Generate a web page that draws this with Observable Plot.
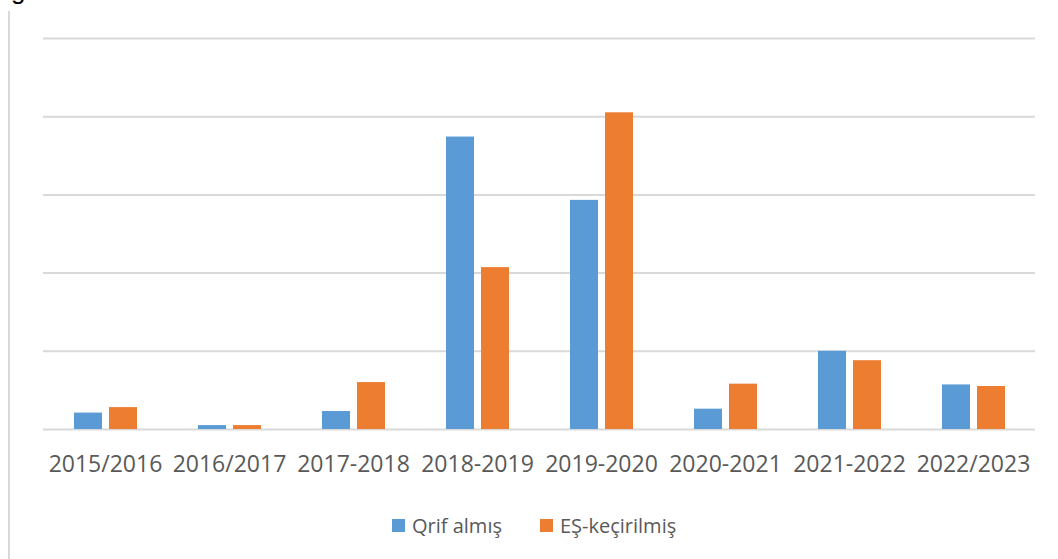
<!DOCTYPE html>
<html>
<head>
<meta charset="utf-8">
<script src="https://cdn.jsdelivr.net/npm/d3@7"></script>
<script src="https://cdn.jsdelivr.net/npm/@observablehq/plot@0.6"></script>
<style>
  html, body { margin: 0; padding: 0; background: #fff; }
  body { width: 1058px; height: 559px; position: relative; overflow: hidden; font-family: "Open Sans", sans-serif; }
  #frag { position: absolute; left: 11px; top: -23px; font: 26px/26px "Liberation Sans", sans-serif; color: #000; }
  #vline { position: absolute; left: 8px; top: 11px; width: 2px; height: 560px; background: #d9d9d9; }
  #chart { position: absolute; left: 0; top: 0; }
  #legend { position: absolute; top: 512px; left: 392px; display: flex; align-items: center; font-size: 20px; color: #595959; white-space: nowrap; }
  #legend .sw { display: inline-block; width: 13px; height: 13px; margin-right: 7px; }
  #legend .item { display: flex; align-items: center; }
</style>
</head>
<body>
<div id="frag">g</div>
<div id="vline"></div>
<div id="chart"></div>
<div id="legend"></div>
<script>
const years = ["2015/2016", "2016/2017", "2017-2018", "2018-2019", "2019-2020", "2020-2021", "2021-2022", "2022/2023"];
const series = ["Qrif almış", "EŞ-keçirilmiş"];
const colors = ["#5B9BD5", "#ED7D31"];
const qrifAlmis = [21, 5, 23, 374, 293, 26, 100, 57];
const esKecirilmis = [28, 5, 60, 207, 405, 58, 88, 55];
const gridValues = [0, 100, 200, 300, 400, 500];

const data = [];
years.forEach((y, i) => {
  data.push({year: y, series: series[0], value: qrifAlmis[i]});
  data.push({year: y, series: series[1], value: esKecirilmis[i]});
});

const chart = Plot.plot({
  width: 1058,
  height: 489,
  marginLeft: 42,
  marginRight: 22,
  marginTop: 38,
  marginBottom: 60,
  style: {fontFamily: "'Open Sans', sans-serif", fontSize: "23px", color: "#595959", background: "transparent"},
  fx: {domain: years, padding: 0, label: null, tickSize: 0, tickPadding: 26, axis: "bottom"},
  x: {domain: series, paddingInner: 0.2, paddingOuter: 0.86, axis: null},
  y: {domain: [0, 500], axis: null},
  color: {domain: series, range: colors},
  marks: [
    Plot.ruleY(gridValues, {stroke: "#d9d9d9", strokeWidth: 2}),
    Plot.barY(data, {fx: "year", x: "series", y: "value", fill: "series"})
  ]
});
document.getElementById("chart").appendChild(chart);

const legend = document.getElementById("legend");
series.forEach((s, i) => {
  const item = document.createElement("div");
  item.className = "item";
  if (i > 0) item.style.marginLeft = "38px";
  const sw = document.createElement("span");
  sw.className = "sw";
  sw.style.background = colors[i];
  const t = document.createElement("span");
  t.textContent = s;
  item.appendChild(sw);
  item.appendChild(t);
  legend.appendChild(item);
});
</script>
</body>
</html>
